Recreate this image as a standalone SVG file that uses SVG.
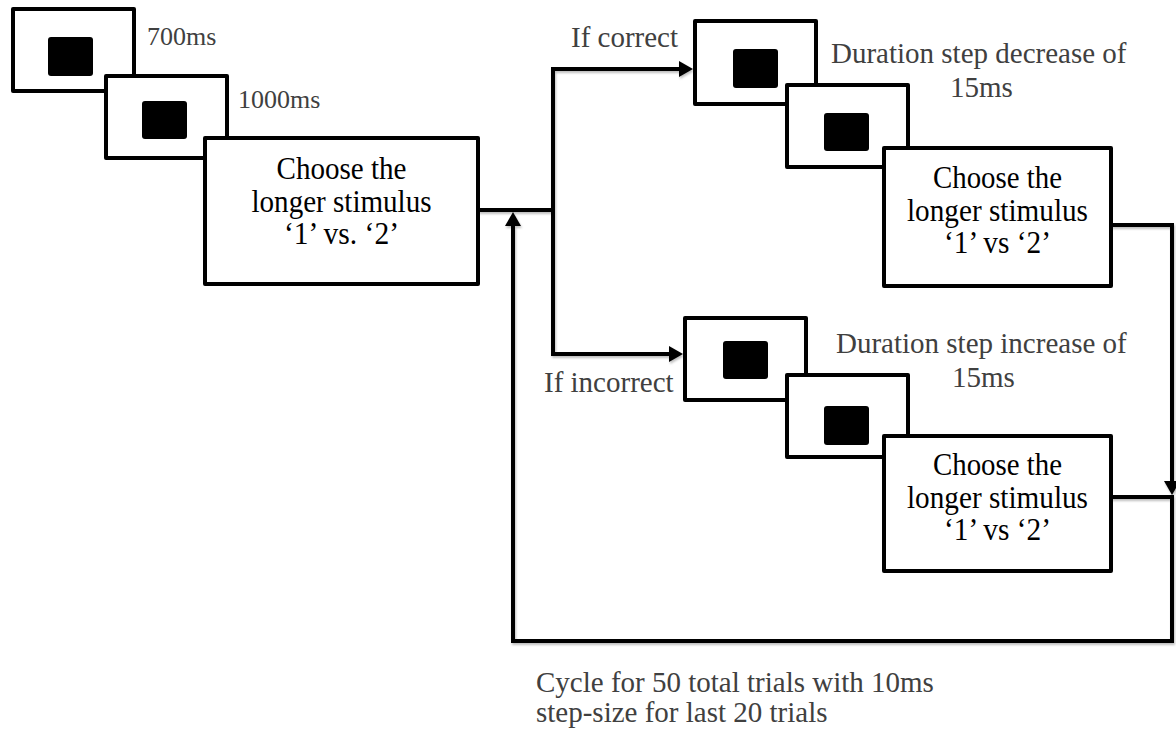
<svg xmlns="http://www.w3.org/2000/svg" width="1176" height="731" viewBox="0 0 1176 731">
<style>
.box{fill:#fff;stroke:#000;stroke-width:4;stroke-linejoin:round}
.sq{fill:#000}
.big{font-family:"Liberation Serif","Times New Roman",serif;font-size:31px;fill:#000;text-anchor:middle}
.lbl{font-family:"Liberation Serif","Times New Roman",serif;font-size:29px;fill:#404040}
.ms{font-family:"Liberation Serif","Times New Roman",serif;font-size:26px;fill:#404040}
.con{fill:none;stroke:#000;stroke-width:4;stroke-linejoin:miter}
</style>
<defs>
<marker id="arr" markerUnits="userSpaceOnUse" markerWidth="14" markerHeight="16" refX="10" refY="8" orient="auto" viewBox="0 0 14 16">
<path d="M0,0 L14,8 L0,16 z" fill="#000"/>
</marker>
<filter id="sh" x="-5%" y="-5%" width="110%" height="110%">
<feDropShadow dx="1" dy="2" stdDeviation="1" flood-color="#000" flood-opacity="0.25"/>
</filter>
</defs>
<rect width="1176" height="731" fill="#fff"/>

<g id="connectors" filter="url(#sh)">
<path class="con" d="M478,210 H553"/>
<path class="con" d="M553,210 V69 H689" marker-end="url(#arr)"/>
<path class="con" d="M553,210 V354 H679" marker-end="url(#arr)"/>
<path class="con" d="M1111,225 H1172 V491" marker-end="url(#arr)"/>
<path class="con" d="M1111,497 H1172 V641 H513 V216" marker-end="url(#arr)"/>
</g>

<g id="stim1">
<rect class="box" x="13" y="9" width="121" height="82"/>
<rect class="sq" x="48" y="37" width="45" height="39" rx="3"/>
<text class="ms" x="147" y="45">700ms</text>
</g>
<g id="stim2">
<rect class="box" x="106" y="76" width="121" height="82"/>
<rect class="sq" x="142" y="101" width="45" height="38" rx="3"/>
<text class="ms" x="238" y="108">1000ms</text>
</g>
<g id="choice1">
<rect class="box" x="205" y="138" width="273" height="146"/>
<text class="big" x="341.5" y="179" textLength="130" lengthAdjust="spacingAndGlyphs">Choose the</text>
<text class="big" x="341.5" y="212" textLength="180" lengthAdjust="spacingAndGlyphs">longer stimulus</text>
<text class="big" x="341.5" y="244" textLength="115" lengthAdjust="spacingAndGlyphs">‘1’ vs. ‘2’</text>
</g>

<g id="label-correct">
<text class="lbl" x="571" y="47">If correct</text>
</g>
<g id="stim3">
<rect class="box" x="695" y="21" width="121" height="83"/>
<rect class="sq" x="733" y="49" width="45" height="39" rx="3"/>
<text class="lbl" x="831" y="63">Duration step decrease of</text>
<text class="lbl" x="950" y="97">15ms</text>
</g>
<g id="stim4">
<rect class="box" x="787" y="85" width="121" height="82"/>
<rect class="sq" x="824" y="113" width="45" height="38" rx="3"/>
</g>
<g id="choice2">
<rect class="box" x="884" y="148" width="227" height="138"/>
<text class="big" x="997.5" y="188" textLength="129" lengthAdjust="spacingAndGlyphs">Choose the</text>
<text class="big" x="997.5" y="221" textLength="181" lengthAdjust="spacingAndGlyphs">longer stimulus</text>
<text class="big" x="997.5" y="253" textLength="107" lengthAdjust="spacingAndGlyphs">‘1’ vs ‘2’</text>
</g>

<g id="label-incorrect">
<text class="lbl" x="544" y="392">If incorrect</text>
</g>
<g id="stim5">
<rect class="box" x="685" y="318" width="121" height="82"/>
<rect class="sq" x="723" y="341" width="45" height="38" rx="3"/>
<text class="lbl" x="836" y="353">Duration step increase of</text>
<text class="lbl" x="952" y="387">15ms</text>
</g>
<g id="stim6">
<rect class="box" x="787" y="375" width="121" height="82"/>
<rect class="sq" x="824" y="406" width="45" height="39" rx="3"/>
</g>
<g id="choice3">
<rect class="box" x="884" y="436" width="227" height="135"/>
<text class="big" x="997.5" y="475" textLength="129" lengthAdjust="spacingAndGlyphs">Choose the</text>
<text class="big" x="997.5" y="508" textLength="181" lengthAdjust="spacingAndGlyphs">longer stimulus</text>
<text class="big" x="997.5" y="540" textLength="107" lengthAdjust="spacingAndGlyphs">‘1’ vs ‘2’</text>
</g>

<g id="caption">
<text class="lbl" x="536" y="692">Cycle for 50 total trials with 10ms</text>
<text class="lbl" x="536" y="722">step-size for last 20 trials</text>
</g>
</svg>
